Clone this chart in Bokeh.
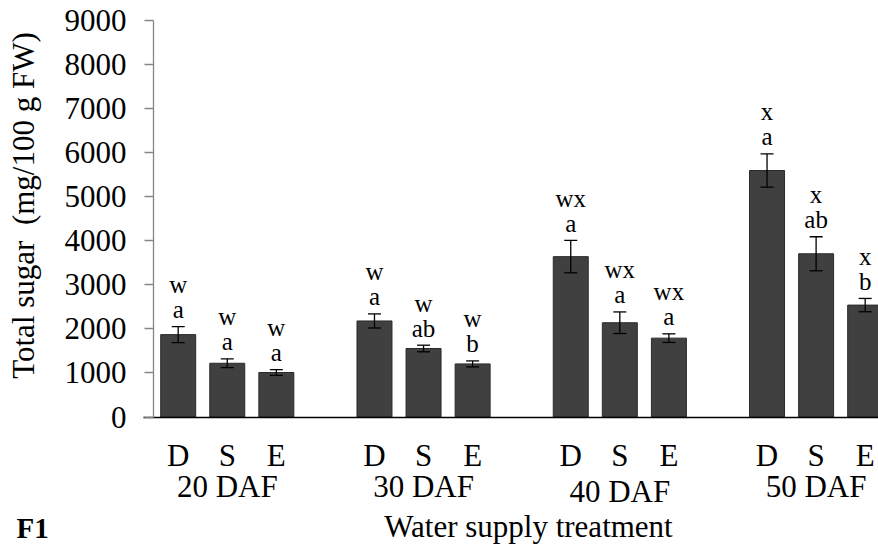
import math

from bokeh.plotting import figure
from bokeh.models import ColumnDataSource, FixedTicker
from bokeh.embed import file_html
from bokeh.resources import INLINE
from bokeh.core.properties import value

# Sampling stages (days after flowering) and water-supply treatments
stages = ["20 DAF", "30 DAF", "40 DAF", "50 DAF"]
treatments = ["D", "S", "E"]

# Mean total sugar (mg/100 g FW), treatments D, S, E within each stage
sugar_20 = [1870, 1220, 1010]
sugar_30 = [2180, 1555, 1205]
sugar_40 = [3640, 2140, 1790]
sugar_50 = [5595, 3705, 2540]

# Standard errors
se_20 = [180, 100, 65]
se_30 = [160, 75, 68]
se_40 = [367, 245, 98]
se_50 = [378, 386, 151]

# Significance letters: between stages (upper row) and between treatments (lower row)
stage_letters_20 = ["w", "w", "w"]
stage_letters_30 = ["w", "w", "w"]
stage_letters_40 = ["wx", "wx", "wx"]
stage_letters_50 = ["x", "x", "x"]
treat_letters_20 = ["a", "a", "a"]
treat_letters_30 = ["a", "ab", "b"]
treat_letters_40 = ["a", "a", "a"]
treat_letters_50 = ["a", "ab", "b"]

y_ticks = [0, 1000, 2000, 3000, 4000, 5000, 6000, 7000, 8000, 9000]

# a no-break space keeps the wide gap before the unit
y_title = "Total sugar\u00a0 (mg/100 g FW)"
x_title = "Water supply treatment"
panel_tag = "F1"

# ---- layout constants (canvas pixels) -----------------------------------
W, H = 878, 545
AXIS_PX = 153        # vertical axis line
FIRST_PX = 177.7     # centre of the first bar
SLOT_PX = 49.07      # distance between neighbouring bars
ZERO_PX = 416.5      # zero line
TOP_PX = 20.0        # 9000 level
Y_MAX = 9000
FONT = "Liberation Serif"
BIG = 31             # axis text size
SMALL = 25           # letter size


def fix(size):
    """Lift applied to glyph text so its baseline lands where intended."""
    return 0.36 * size


def x_at(px):
    """Canvas x pixel -> data x."""
    return (px - FIRST_PX) / SLOT_PX


def y_at(py):
    """Canvas y pixel -> data y."""
    return (ZERO_PX - py) * Y_MAX / (ZERO_PX - TOP_PX)


# ---- assemble the table -----------------------------------------------
means = [sugar_20, sugar_30, sugar_40, sugar_50]
errors = [se_20, se_30, se_40, se_50]
upper_letters = [stage_letters_20, stage_letters_30, stage_letters_40, stage_letters_50]
lower_letters = [treat_letters_20, treat_letters_30, treat_letters_40, treat_letters_50]

xs, tops, ups, lows, l1, l2 = [], [], [], [], [], []
tick_labels = {}
for i in range(len(stages)):
    for j, t in enumerate(treatments):
        x = i * (len(treatments) + 1) + j
        xs.append(x)
        tops.append(means[i][j])
        ups.append(means[i][j] + errors[i][j])
        lows.append(means[i][j] - errors[i][j])
        l1.append(upper_letters[i][j])
        l2.append(lower_letters[i][j])
        tick_labels[x] = t

src = ColumnDataSource(dict(x=xs, top=tops, upper=ups, lower=lows, l1=l1, l2=l2))

# the frame fills the whole canvas; the axes are pinned inside it
p = figure(width=W, height=H, x_range=(x_at(0), x_at(W)), y_range=(y_at(H), y_at(0)),
           output_backend="svg", toolbar_location=None,
           min_border_left=0, min_border_right=0,
           min_border_top=0, min_border_bottom=0)
p.outline_line_color = None
p.grid.grid_line_color = None
p.background_fill_color = "white"
p.border_fill_color = "white"

p.vbar(x="x", top="top", bottom=0, width=0.713, source=src,
       fill_color="#404040", line_color="#2b2b2b", line_width=1)

# error bars
p.segment(x0="x", y0="lower", x1="x", y1="upper", source=src,
          line_color="black", line_width=1.3)
p.scatter(x="x", y="upper", source=src, marker="dash", size=13,
          line_color="black", line_width=1.3)
p.scatter(x="x", y="lower", source=src, marker="dash", size=13,
          line_color="black", line_width=1.3)

# significance letters above each error bar
p.text(x="x", y="upper", text="l2", source=src, y_offset=-8 - fix(SMALL),
       text_align="center", text_baseline="alphabetic",
       text_font=value(FONT), text_font_size=f"{SMALL}px", text_color="black")
p.text(x="x", y="upper", text="l1", source=src, y_offset=-33 - fix(SMALL),
       text_align="center", text_baseline="alphabetic",
       text_font=value(FONT), text_font_size=f"{SMALL}px", text_color="black")

# y axis
ya = p.yaxis[0]
ya.fixed_location = x_at(AXIS_PX)
ya.bounds = (0, Y_MAX)
ya.ticker = FixedTicker(ticks=y_ticks)
ya.minor_tick_line_color = None
ya.major_tick_in = 0
ya.major_tick_out = 9
ya.axis_line_color = "#868686"
ya.major_tick_line_color = "#868686"
ya.axis_line_width = 1.3
ya.major_tick_line_width = 1.3
ya.major_label_standoff = 18
ya.major_label_text_font = FONT
ya.major_label_text_font_size = f"{BIG}px"
ya.major_label_text_color = "black"

# x axis: treatment letters under each bar
xa = p.xaxis[0]
xa.fixed_location = 0
xa.bounds = (x_at(AXIS_PX - 10), x_at(W + 40))
xa.ticker = FixedTicker(ticks=xs)
xa.major_label_overrides = tick_labels
xa.major_tick_line_color = None
xa.major_tick_out = 0
xa.major_tick_in = 0
xa.minor_tick_line_color = None
xa.axis_line_color = "black"
xa.axis_line_width = 1.3
xa.major_label_standoff = 21
xa.major_label_text_font = FONT
xa.major_label_text_font_size = f"{BIG}px"
xa.major_label_text_color = "black"

# stage names under each group of bars
stage_x = [i * (len(treatments) + 1) + 1 for i in range(len(stages))]
stage_base_px = [497, 497, 502, 497]
p.text(x=stage_x, y=[y_at(b) for b in stage_base_px], text=stages,
       y_offset=-fix(BIG), text_align="center", text_baseline="alphabetic",
       text_font=value(FONT), text_font_size=f"{BIG}px", text_color="black")

# axis titles and panel tag
p.text(x=[x_at(528)], y=[y_at(537)], text=[x_title], y_offset=-fix(BIG),
       text_align="center", text_baseline="alphabetic",
       text_font=value(FONT), text_font_size=f"{BIG}px", text_color="black")
p.text(x=[x_at(34)], y=[y_at(205)], text=[y_title], angle=math.pi / 2,
       x_offset=-fix(BIG), text_align="center", text_baseline="alphabetic",
       text_font=value(FONT), text_font_size=f"{BIG}px", text_color="black")
p.text(x=[x_at(16)], y=[y_at(538)], text=[panel_tag], y_offset=-fix(29),
       text_align="left", text_baseline="alphabetic",
       text_font=value(FONT), text_font_size="29px", text_font_style="bold",
       text_color="black")

open("out.html", "w").write(file_html(p, INLINE))
